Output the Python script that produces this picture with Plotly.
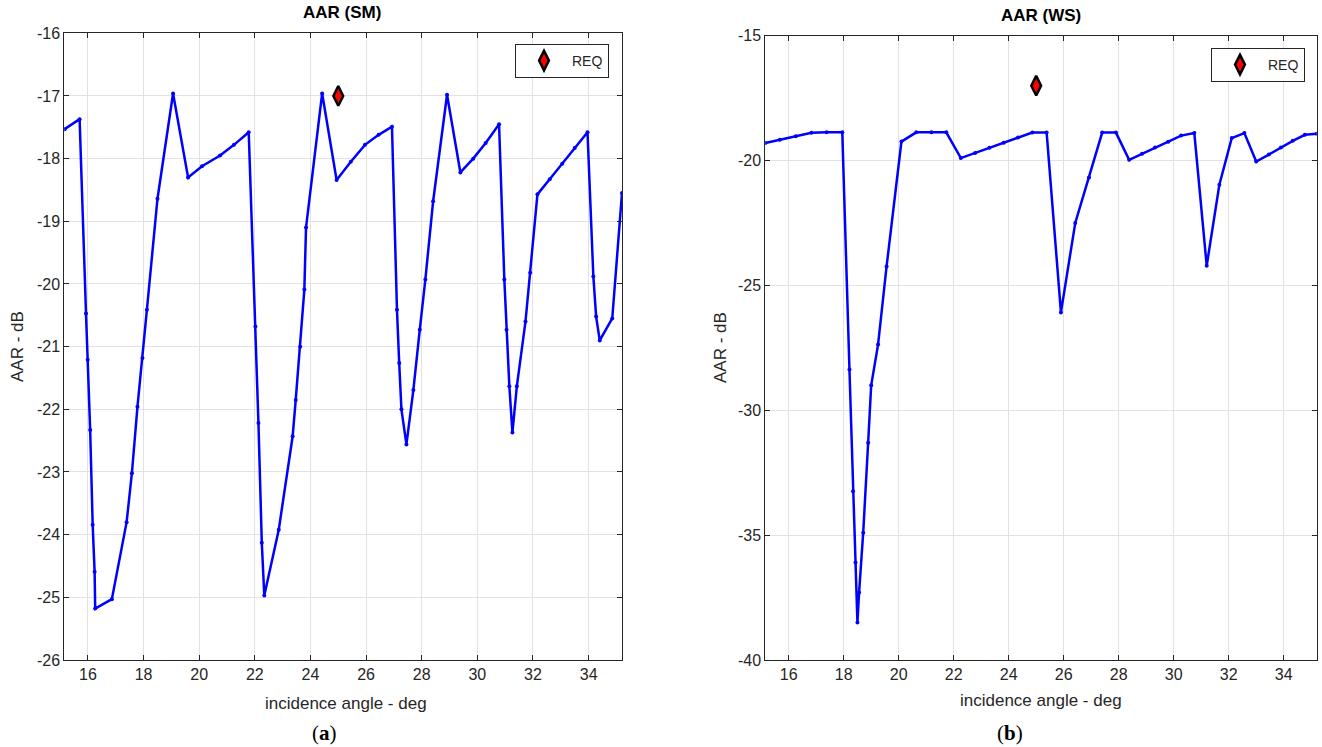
import plotly.graph_objects as go

# ---- Data: AAR (SM) ----
sm_angle = [15.16, 15.70, 15.93, 15.99, 16.08, 16.17, 16.24, 16.26, 16.86, 17.39, 17.58, 17.78, 17.96,
            18.12, 18.50, 19.06, 19.60, 20.10, 20.75, 21.25, 21.78, 22.02, 22.13, 22.25, 22.34, 22.86,
            23.36, 23.47, 23.63, 23.78, 23.84, 24.42, 24.94, 25.45, 25.96, 26.45, 26.93, 27.11, 27.19,
            27.27, 27.45, 27.70, 27.93, 28.13, 28.41, 28.91, 29.39, 29.85, 30.30, 30.78, 30.97, 31.05,
            31.15, 31.26, 31.42, 31.73, 31.90, 32.16, 32.60, 33.05, 33.50, 33.96, 34.17, 34.27, 34.40,
            34.85, 35.20]
sm_aar = [-17.53, -17.37, -20.47, -21.21, -22.33, -23.84, -24.59, -25.18, -25.03, -23.80, -23.02, -21.96,
          -21.18, -20.41, -18.64, -16.96, -18.30, -18.12, -17.95, -17.78, -17.58, -20.68, -22.22, -24.13,
          -24.97, -23.92, -22.43, -21.85, -21.00, -20.09, -19.10, -16.96, -18.34, -18.05, -17.78, -17.62,
          -17.49, -20.41, -21.26, -22.00, -22.56, -21.69, -20.73, -19.93, -18.68, -16.98, -18.22, -18.00,
          -17.75, -17.45, -19.93, -20.73, -21.63, -22.37, -21.63, -20.60, -19.82, -18.57, -18.33, -18.08,
          -17.83, -17.58, -19.88, -20.52, -20.90, -20.55, -18.55]

# ---- Data: AAR (WS) ----
ws_angle = [15.15, 15.68, 16.26, 16.83, 17.38, 17.95, 18.21, 18.34, 18.43, 18.50, 18.56, 18.71, 18.89,
            19.00, 19.25, 19.56, 20.10, 20.64, 21.19, 21.73, 22.26, 22.78, 23.30, 23.82, 24.34, 24.86,
            25.38, 25.90, 26.42, 26.92, 27.40, 27.90, 28.38, 28.85, 29.32, 29.80, 30.27, 30.75, 31.20,
            31.66, 32.11, 32.57, 33.00, 33.46, 33.90, 34.33, 34.77, 35.20]
ws_aar = [-19.30, -19.17, -19.03, -18.89, -18.87, -18.87, -28.37, -33.24, -36.10, -38.50, -37.30, -34.90,
          -31.30, -29.00, -27.37, -24.24, -19.24, -18.87, -18.87, -18.87, -19.90, -19.70, -19.49, -19.29,
          -19.08, -18.88, -18.88, -26.08, -22.50, -20.68, -18.88, -18.88, -19.97, -19.73, -19.48, -19.25,
          -19.00, -18.90, -24.21, -20.97, -19.10, -18.90, -20.04, -19.76, -19.48, -19.21, -18.97, -18.93]

req_angle = [25.0]
req_sm = [-17.0]
req_ws = [-17.0]

sm_yticks = [-26, -25, -24, -23, -22, -21, -20, -19, -18, -17, -16]
ws_yticks = [-40, -35, -30, -25, -20, -15]
xticks = [16, 18, 20, 22, 24, 26, 28, 30, 32, 34]

W, H = 1322, 747
FONT = "Arial, Liberation Sans, sans-serif"
SERIF = "Liberation Serif, Times New Roman, serif"
AX = "#262626"
GRID = "#e2e2e2"
BLUE = "#0000ff"

fig = go.Figure()

line_style = dict(color=BLUE, width=2.5)
mk_style = dict(color=BLUE, size=4)
req_marker = dict(symbol="diamond-tall", size=14, color="red", line=dict(color="black", width=2.5))

fig.add_trace(go.Scatter(x=sm_angle, y=sm_aar, mode="lines+markers", line=line_style,
                         marker=mk_style, showlegend=False, xaxis="x", yaxis="y"))
fig.add_trace(go.Scatter(x=req_angle, y=req_sm, mode="markers", name="REQ", marker=req_marker,
                         xaxis="x", yaxis="y", legend="legend"))
fig.add_trace(go.Scatter(x=ws_angle, y=ws_aar, mode="lines+markers", line=line_style,
                         marker=mk_style, showlegend=False, xaxis="x2", yaxis="y2"))
fig.add_trace(go.Scatter(x=req_angle, y=req_ws, mode="markers", name="REQ", marker=req_marker,
                         xaxis="x2", yaxis="y2", legend="legend2"))


def px_x(p):
    return p / W


def px_y(p):
    return 1 - p / H


common_axis = dict(showline=True, linecolor=AX, linewidth=1, mirror="ticks", ticks="inside",
                   ticklen=5, tickcolor=AX, showgrid=True, gridcolor=GRID, gridwidth=1,
                   zeroline=False, automargin=False,
                   tickfont=dict(family=FONT, size=16, color=AX))

legend_style = dict(xanchor="right", yanchor="top", bgcolor="white", bordercolor=AX, borderwidth=1,
                    itemwidth=46, font=dict(family=FONT, size=14, color=AX))

fig.update_layout(
    width=W, height=H,
    margin=dict(l=0, r=0, t=0, b=0, autoexpand=False),
    paper_bgcolor="white", plot_bgcolor="white",
    xaxis=dict(domain=[px_x(64.3), px_x(622)], range=[15.15, 35.2], tickvals=xticks,
               ticktext=[str(v) for v in xticks], anchor="y", **common_axis),
    yaxis=dict(domain=[px_y(660), px_y(33.3)], range=[-26, -16], tickvals=sm_yticks,
               ticktext=[str(v) for v in sm_yticks], anchor="x", **common_axis),
    xaxis2=dict(domain=[px_x(765.3), px_x(1316.7)], range=[15.15, 35.2], tickvals=xticks,
                ticktext=[str(v) for v in xticks], anchor="y2", **common_axis),
    yaxis2=dict(domain=[px_y(660), px_y(35.7)], range=[-40, -15], tickvals=ws_yticks,
                ticktext=[str(v) for v in ws_yticks], anchor="x2", **common_axis),
    legend=dict(x=px_x(609), y=px_y(44), **legend_style),
    legend2=dict(x=px_x(1305), y=px_y(48), **legend_style),
)


def note(text, x, y, size, family=FONT, color=AX, angle=0):
    return dict(text=text, x=px_x(x), y=px_y(y), xref="paper", yref="paper", xanchor="center",
                yanchor="middle", textangle=angle, showarrow=False,
                font=dict(family=family, size=size, color=color))


ann = [
    note("<b>AAR (SM)</b>", 342.5, 13, 17, color="black"),
    note("<b>AAR (WS)</b>", 1041, 15, 17, color="black"),
    note("incidence angle - deg", 345.5, 703, 17),
    note("incidence angle - deg", 1041, 700, 17),
    note("AAR - dB", 17, 347, 17, angle=-90),
    note("AAR - dB", 720, 348, 17, angle=-90),
    note("(<b>a</b>)", 324.5, 733, 21, family=SERIF, color="black"),
    note("(<b>b</b>)", 1010, 733, 21, family=SERIF, color="black"),
]
fig.update_layout(annotations=ann)

fig.write_html("out.html")
